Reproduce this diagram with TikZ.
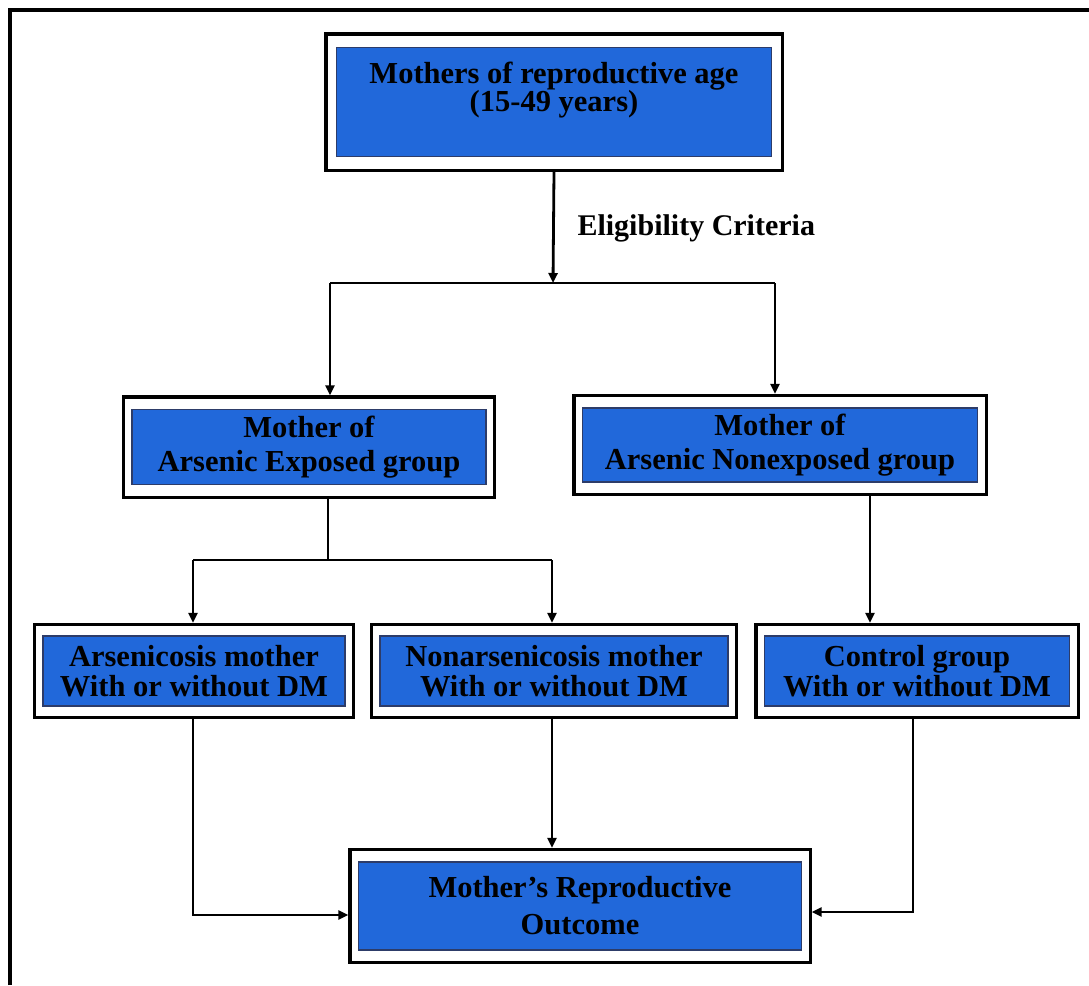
\documentclass[tikz,border=0pt]{standalone}
\usepackage{fontspec}
\setmainfont{Liberation Serif}
\usetikzlibrary{arrows.meta,positioning,fit,calc}
\definecolor{boxblue}{RGB}{33,104,218}
\definecolor{boxedge}{RGB}{45,60,105}

\begin{document}
\begin{tikzpicture}[x=1pt, y=-1pt,
  inbox/.style={fill=boxblue, draw=boxedge, line width=1.2pt, align=center,
    font=\fontsize{30.5}{32}\selectfont\bfseries, inner sep=0pt},
  outbox/.style={draw=black, line width=3.2pt, inner xsep=8pt, inner ysep=12pt},
  ln/.style={line width=2.8pt},
  arr/.style={ln, -{Triangle[length=10pt,width=9pt]}}]

\useasboundingbox (0,0) rectangle (1089,985);

% Page frame
\draw[line width=3.5pt] (10,985) -- (10,10) -- (1089,10);

% Boxes
\node[inbox, minimum width=435pt, minimum height=109pt, text depth=30pt] (mom) at (554,102)
  {Mothers of reproductive age\\[-4pt](15-49 years)};
\node[outbox, fit=(mom), inner xsep=10pt, inner ysep=13pt] (momF) {};

\node[inbox, minimum width=354pt, minimum height=75pt] (expo) at (309,447)
  {Mother of\\[2pt]Arsenic Exposed group};
\node[outbox, fit=(expo)] (expoF) {};

\node[inbox, minimum width=395pt, minimum height=74pt] (nonexpo) at (780,445)
  {Mother of\\[2pt]Arsenic Nonexposed group};
\node[outbox, fit=(nonexpo)] (nonexpoF) {};

\node[inbox, minimum width=302pt, minimum height=70pt] (arsm) at (194,671)
  {Arsenicosis mother\\[-2pt]With or without DM};
\node[outbox, fit=(arsm), inner ysep=11pt] (arsmF) {};

\node[inbox, minimum width=348pt, minimum height=70pt] (nonarsm) at (554,671)
  {Nonarsenicosis mother\\[-2pt]With or without DM};
\node[outbox, fit=(nonarsm), inner ysep=11pt] (nonarsmF) {};

\node[inbox, minimum width=305pt, minimum height=70pt] (ctrl) at (917,671)
  {Control group\\[-2pt]With or without DM};
\node[outbox, fit=(ctrl), inner ysep=11pt] (ctrlF) {};

\node[inbox, minimum width=443pt, minimum height=88pt] (outc) at (580,906)
  {Mother's Reproductive\\[5pt]Outcome};
\node[outbox, fit=(outc)] (outcF) {};

% Eligibility split
\coordinate (elig) at (553,283);
\coordinate (brL) at (330,283);
\coordinate (brR) at (775,283);
\draw[arr] (momF.south) -- (elig);
\node[font=\fontsize{30}{32}\selectfont\bfseries, anchor=west] (crit) at (574,228) {Eligibility Criteria};
\draw[ln] (brL) -- (brR);
\draw[arr] (brL) -- (brL |- expoF.north);
\draw[arr] (brR) -- (brR |- nonexpoF.north);

% Exposed group split
\coordinate (brE) at (328,560);
\coordinate (brA) at (193,560);
\coordinate (brB) at (552,560);
\draw[ln] (brE |- expoF.south) -- (brE);
\draw[ln] (brA) -- (brB);
\draw[arr] (brA) -- (brA |- arsmF.north);
\draw[arr] (brB) -- (brB |- nonarsmF.north);

% Nonexposed group
\coordinate (dnC) at (870,560);
\draw[arr] (dnC |- nonexpoF.south) -- (dnC |- ctrlF.north);

% Into the outcome
\coordinate (inA) at (193,915);
\coordinate (inC) at (913,912);
\draw[arr] (inA |- arsmF.south) -- (inA) -- (inA -| outcF.west);
\draw[arr] (brB |- nonarsmF.south) -- (brB |- outcF.north);
\draw[arr] (inC |- ctrlF.south) -- (inC) -- (inC -| outcF.east);

\end{tikzpicture}
\end{document}
